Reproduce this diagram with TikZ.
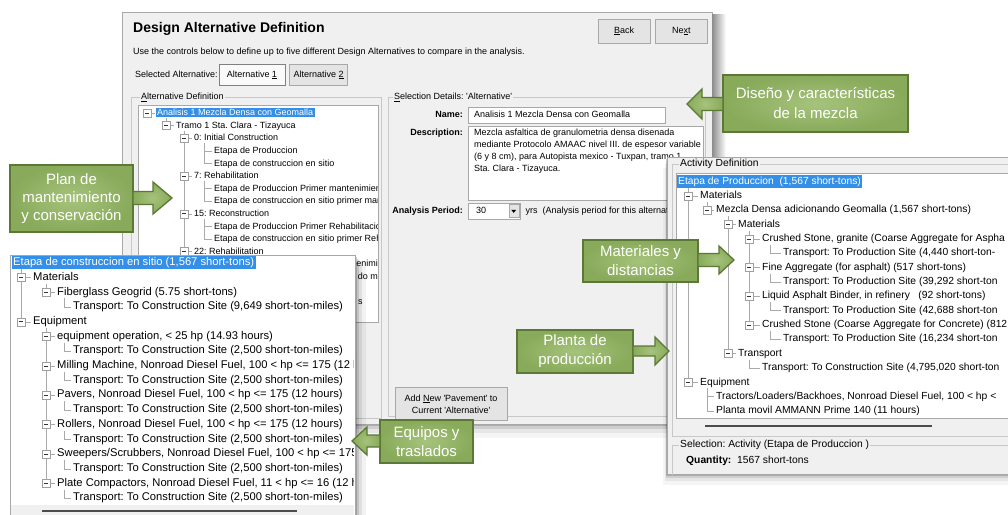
\documentclass[tikz,border=0pt]{standalone}
\usepackage{fontspec}
\setmainfont{Liberation Sans}
\usetikzlibrary{positioning,calc}
\frenchspacing

\definecolor{winbg}{RGB}{240,240,240}
\definecolor{winframe}{RGB}{168,168,168}
\definecolor{etch}{RGB}{200,200,200}
\definecolor{btnface}{RGB}{228,228,228}
\definecolor{selblue}{RGB}{51,143,232}
\definecolor{guidegray}{RGB}{170,170,170}
\definecolor{calldark}{RGB}{92,120,55}
\definecolor{callmid}{RGB}{136,170,90}
\definecolor{calllite}{RGB}{166,195,124}

\newcommand{\sq}{\textquotesingle}
\newcommand{\mainfs}{\fontsize{9}{12}\selectfont}
\newcommand{\leftfs}{\fontsize{11.2}{13}\selectfont}
\newcommand{\rightfs}{\fontsize{10.3}{13}\selectfont}

\tikzset{
  txt/.style={anchor=mid west, inner sep=0pt},
  selrow/.style={anchor=mid west, fill=selblue, text=white, inner xsep=1.5pt, inner ysep=1.5pt},
  winbtn/.style={draw=winframe, fill=btnface, font=\mainfs, inner sep=0pt, align=center},
  fieldbox/.style={draw=winframe, fill=white, inner sep=0pt},
  guideline/.style={draw=guidegray, line width=0.6pt},
  xbox/.style={draw=gray!75, fill=white, line width=0.6pt},
  xminus/.style={draw=gray!40!black, line width=0.7pt},
  callbox/.style={draw=calldark, line width=1.3pt, inner color=calllite, outer color=callmid, text=white, align=center, inner sep=0pt},
  callarrow/.style={draw=calldark, line width=1.3pt, inner color=calllite, outer color=callmid, line join=miter},
}

\begin{document}
\begin{tikzpicture}[x=1pt, y=-1pt]
\useasboundingbox (0,0) rectangle (1008,514);
\fill[white] (0,0) rectangle (1008,514);

% main window
\foreach \d/\o in {2/0.16, 5/0.10, 9/0.06, 14/0.04}
  \fill[black, opacity=\o] (122+\d,12+\d) rectangle (712+\d,424+\d);
\fill[winbg] (122,12) rectangle (712,424);
\draw[winframe] (122,12) rectangle (712,424);

\node[txt, font=\fontsize{14}{16}\selectfont\bfseries] (title) at (133,30) {Design Alternative Definition};
\node[winbtn, minimum width=52, minimum height=24] (back) at (624,31) {\underline{B}ack};
\node[winbtn, minimum width=52, minimum height=24, right=5pt of back] (next) {Ne\underline{x}t};
\node[txt, font=\mainfs] (intro) at (133,52) {Use the controls below to define up to five different Design Alternatives to compare in the analysis.};
\node[txt, font=\mainfs] (selalt) at (135,75) {Selected Alternative:};
\node[winbtn, fill=white!70!winbg, draw=gray, line width=0.8pt, minimum width=66, minimum height=21] (alt1) at (252,75) {Alternative \underline{1}};
\node[winbtn, minimum width=58, minimum height=21, right=4pt of alt1] (alt2) {Alternative \underline{2}};

% alternative definition tree
\draw[etch] (131,97) rectangle (381,418);
\node[txt, fill=winbg, inner xsep=1pt, font=\mainfs] (altdef) at (140,97) {\underline{A}lternative Definition};
\fill[white] (138,105) rectangle (378,322);
\draw[winframe] (138,105) rectangle (378,322);
\begin{scope}
  \clip (139,106) rectangle (377,321);
  \foreach \lv/\ka/\kb in {1/0/1, 2/1/15, 3/2/4, 3/5/7, 3/8/10, 3/11/13}{
    \pgfmathsetmacro\xc{{147,166,184,204}[\lv]}
    \draw[guideline] (\xc,113+12.6*\ka+5) -- (\xc,113+12.6*\kb);
  }
  \draw[guideline] (147,113) -- (155,113);
  \draw[xbox] (143,109) rectangle (151,117);
  \draw[xminus] (145,113) -- (149,113);
  \node[selrow, font=\mainfs] (m0) at (155.5,113) {Analisis 1 Mezcla Densa con Geomalla};
  \foreach \k/\lv/\hasbtn/\txt in {
    1/1/1/{Tramo 1 Sta. Clara - Tizayuca},
    2/2/1/{0: Initial Construction},
    3/3/0/{Etapa de Produccion},
    4/3/0/{Etapa de construccion en sitio},
    5/2/1/{7: Rehabilitation},
    6/3/0/{Etapa de Produccion Primer mantenimien},
    7/3/0/{Etapa de construccion en sitio primer man},
    8/2/1/{15: Reconstruction},
    9/3/0/{Etapa de Produccion Primer Rehabilitacio},
    10/3/0/{Etapa de construccion en sitio primer Reh},
    11/2/1/{22: Rehabilitation}}{
    \pgfmathsetmacro\yy{113+12.6*\k}
    \pgfmathsetmacro\xc{{147,166,184,204}[\lv]}
    \pgfmathsetmacro\xt{{157,176,194,214}[\lv]}
    \draw[guideline] (\xc,\yy) -- (\xt-2,\yy);
    \ifnum\hasbtn=1
      \draw[xbox] (\xc-4,\yy-4) rectangle (\xc+4,\yy+4);
      \draw[xminus] (\xc-2,\yy) -- (\xc+2,\yy);
    \fi
    \node[txt, font=\mainfs] (m\k) at (\xt,\yy) {\txt};
  }
  \node[anchor=mid east, inner sep=0pt, font=\mainfs] (frag1) at (378,264.2) {enimi};
  \node[anchor=mid east, inner sep=0pt, font=\mainfs] (frag2) at (378,276.8) {do m};
  \node[txt, font=\mainfs] (frag3) at (358,302) {s};
\end{scope}

% selection details
\draw[etch] (388,97) rectangle (705,416);
\node[txt, fill=winbg, inner xsep=1pt, font=\mainfs] (seldet) at (393,97) {\underline{S}election Details: \sq Alternative\sq};
\node[anchor=mid east, inner sep=0pt, font=\mainfs\bfseries] (namelbl) at (463,115) {Name:};
\node[fieldbox, anchor=west, minimum width=197, minimum height=16] (namefld) at (468,115) {};
\node[txt, font=\mainfs] (nameval) at (474,115) {Analisis 1 Mezcla Densa con Geomalla};
\node[anchor=mid east, inner sep=0pt, font=\mainfs\bfseries] (desclbl) at (463,133) {Description:};
\node[fieldbox, anchor=north west, minimum width=235, minimum height=74] (descfld) at (468,126) {};
\node[anchor=north west, inner sep=0pt, align=left, font=\mainfs] (descval) at (474,128.5)
  {Mezcla asfaltica de granulometria densa disenada\\
   mediante Protocolo AMAAC nivel III. de espesor variable\\
   (6 y 8 cm), para Autopista mexico - Tuxpan, tramo 1.\\
   Sta. Clara - Tizayuca.};
\node[anchor=mid east, inner sep=0pt, font=\mainfs\bfseries] (perlbl) at (463,211) {Analysis Period:};
\node[fieldbox, anchor=west, minimum width=52, minimum height=16] (perfld) at (468,211) {};
\node[txt, font=\mainfs] (perval) at (476,211) {30};
\node[winbtn, minimum width=10, minimum height=13, anchor=east] (perdrop) at ([xshift=-1.5pt]perfld.east) {};
\fill[black] ([xshift=-2.5pt,yshift=1.2pt]perdrop.center) -- ([xshift=2.5pt,yshift=1.2pt]perdrop.center) -- ([yshift=-1.8pt]perdrop.center) -- cycle;
\node[txt, font=\mainfs, right=5pt of perfld] (perunit) {yrs\ \ (Analysis period for this alternati};
\node[winbtn, minimum width=112, minimum height=33] (addnew) at (451,404)
  {Add \underline{N}ew \sq Pavement\sq{} to\\Current \sq Alternative\sq};

% shadow right of main window
\shade[left color=black!45, right color=white] (712,14) rectangle (726,160);

% activity definition panel
\foreach \d/\o in {2/0.16, 4/0.10, 7/0.06, 11/0.04}
  \fill[black, opacity=\o] (667-\d/3,157+\d) rectangle (1008,474+\d);
\fill[winbg] (667,157) rectangle (1012,474);
\draw[winframe] (667,157) rectangle (1012,474);
\begin{scope}
  \clip (667,157) rectangle (1008,474);
  \draw[etch] (672,164) rectangle (1015,436);
  \draw[etch] (672,445) rectangle (1015,490);
\end{scope}
\node[txt, fill=winbg, inner xsep=1pt, font=\rightfs] (actdef) at (679,164) {Activity Definition};
\fill[white] (676,173) rectangle (1010,418);
\draw[winframe] (676,173) rectangle (1012,418);
\begin{scope}
  \clip (677,174) rectangle (1008,417);
  \foreach \lv/\ka/\kb in {1/0/14, 2/1/2, 2/14/16, 3/2/12, 4/3/10, 4/12/13, 5/4/5, 5/6/7, 5/8/9, 5/10/11}{
    \pgfmathsetmacro\xc{{0,688,707,728,749,770}[\lv]}
    \draw[guideline] (\xc,181.5+14.35*\ka+6) -- (\xc,181.5+14.35*\kb);
  }
  \node[selrow, font=\rightfs] (r0) at (676.5,181.5) {Etapa de Produccion\ \ (1,567 short-tons)};
  \foreach \k/\lv/\hasbtn/\txt in {
    1/1/1/Materials,
    2/2/1/{Mezcla Densa adicionando Geomalla (1,567 short-tons)},
    3/3/1/Materials,
    4/4/1/{Crushed Stone, granite (Coarse Aggregate for Aspha},
    5/5/0/{Transport: To Production Site (4,440 short-ton-},
    6/4/1/{Fine Aggregate (for asphalt) (517 short-tons)},
    7/5/0/{Transport: To Production Site (39,292 short-ton},
    8/4/1/{Liquid Asphalt Binder, in refinery\ \ \ (92 short-tons)},
    9/5/0/{Transport: To Production Site (42,688 short-ton},
    10/4/1/{Crushed Stone (Coarse Aggregate for Concrete) (812},
    11/5/0/{Transport: To Production Site (16,234 short-ton},
    12/3/1/Transport,
    13/4/0/{Transport: To Construction Site (4,795,020 short-ton},
    14/1/1/Equipment,
    15/2/0/{Tractors/Loaders/Backhoes, Nonroad Diesel Fuel, 100 < hp <},
    16/2/0/{Planta movil AMMANN Prime 140 (11 hours)}}{
    \pgfmathsetmacro\yy{181.5+14.35*\k}
    \pgfmathsetmacro\xc{{0,688,707,728,749,770}[\lv]}
    \pgfmathsetmacro\xt{{0,700,716,738,762,783}[\lv]}
    \draw[guideline] (\xc,\yy) -- (\xt-2,\yy);
    \ifnum\hasbtn=1
      \draw[xbox] (\xc-4,\yy-4) rectangle (\xc+4,\yy+4);
      \draw[xminus] (\xc-2,\yy) -- (\xc+2,\yy);
    \fi
    \node[txt, font=\rightfs] (r\k) at (\xt,\yy) {\txt};
  }
\end{scope}
\draw[gray!60!black, line width=2pt] (705,426) -- (932,426);
\node[txt, fill=winbg, inner xsep=1pt, font=\rightfs] (actsel) at (679,445) {Selection: Activity (Etapa de Produccion )};
\node[txt, font=\rightfs] (qty) at (686,461) {\textbf{Quantity:}\ \ 1567 short-tons};

% construction-site activity panel
\foreach \d/\o in {2/0.18, 4/0.12, 7/0.08, 11/0.05}
  \fill[black, opacity=\o] (10+\d,255+\d) rectangle (355+\d,520);
\fill[white] (10,255) rectangle (355,520);
\draw[winframe] (10,255) rectangle (355,520);
\fill[winbg] (11,505) rectangle (354,520);
\begin{scope}
  \clip (11,256) rectangle (353,505);
  \foreach \lv/\ka/\kb in {1/0/4, 2/1/2, 2/4/15, 3/2/3, 3/5/6, 3/7/8, 3/9/10, 3/11/12, 3/13/14, 3/15/16}{
    \pgfmathsetmacro\xc{{0,21,46,64}[\lv]}
    \draw[guideline] (\xc,263+14.7*\ka+6) -- (\xc,263+14.7*\kb);
  }
  \node[selrow, font=\leftfs] (l0) at (11.5,263) {Etapa de construccion en sitio (1,567 short-tons)};
  \foreach \k/\lv/\hasbtn/\txt in {
    1/1/1/Materials,
    2/2/1/{Fiberglass Geogrid (5.75 short-tons)},
    3/3/0/{Transport: To Construction Site (9,649 short-ton-miles)},
    4/1/1/Equipment,
    5/2/1/{equipment operation, < 25 hp (14.93 hours)},
    6/3/0/{Transport: To Construction Site (2,500 short-ton-miles)},
    7/2/1/{Milling Machine, Nonroad Diesel Fuel, 100 < hp <= 175 (12 h},
    8/3/0/{Transport: To Construction Site (2,500 short-ton-miles)},
    9/2/1/{Pavers, Nonroad Diesel Fuel, 100 < hp <= 175 (12 hours)},
    10/3/0/{Transport: To Construction Site (2,500 short-ton-miles)},
    11/2/1/{Rollers, Nonroad Diesel Fuel, 100 < hp <= 175 (12 hours)},
    12/3/0/{Transport: To Construction Site (2,500 short-ton-miles)},
    13/2/1/{Sweepers/Scrubbers, Nonroad Diesel Fuel, 100 < hp <= 175},
    14/3/0/{Transport: To Construction Site (2,500 short-ton-miles)},
    15/2/1/{Plate Compactors, Nonroad Diesel Fuel, 11 < hp <= 16 (12 h},
    16/3/0/{Transport: To Construction Site (2,500 short-ton-miles)}}{
    \pgfmathsetmacro\yy{263+14.7*\k}
    \pgfmathsetmacro\xc{{0,21,46,64}[\lv]}
    \pgfmathsetmacro\xt{{0,33,57,73}[\lv]}
    \draw[guideline] (\xc,\yy) -- (\xt-2,\yy);
    \ifnum\hasbtn=1
      \draw[xbox] (\xc-4,\yy-4) rectangle (\xc+4,\yy+4);
      \draw[xminus] (\xc-2,\yy) -- (\xc+2,\yy);
    \fi
    \node[txt, font=\leftfs] (l\k) at (\xt,\yy) {\txt};
  }
\end{scope}
\draw[gray!60!black, line width=2pt] (42,511) -- (297,511);

% callouts
\coordinate (distip) at (687,104);
\coordinate (plantip) at (172,198);
\coordinate (mattip) at (734,260);
\coordinate (platip) at (669,351);
\coordinate (equtip) at (352,441);
\node[callbox, minimum width=185, minimum height=57, font=\fontsize{15}{20}\selectfont] (dis) at (815.5,103.5) {Diseño y características\\de la mezcla};
\node[callbox, minimum width=123, minimum height=67, font=\fontsize{15}{18}\selectfont] (plan) at (71.5,198.5) {Plan de\\mantenimiento\\y conservación};
\node[callbox, minimum width=115, minimum height=42, font=\fontsize{15}{19}\selectfont] (mat) at (640.5,261) {Materiales y\\distancias};
\node[callbox, minimum width=116, minimum height=43, font=\fontsize{15}{19}\selectfont] (pla) at (575,351.5) {Planta de\\producción};
\node[callbox, minimum width=93, minimum height=43, font=\fontsize{15}{19}\selectfont] (equ) at (426.5,441.5) {Equipos y\\traslados};

\path[callarrow] let \p1=(distip), \p2=(dis.west) in
  (\p1) -- (\x1+15pt,\y1+15pt) -- (\x1+15pt,\y1+6.5pt) -- (\x2+0.7pt,\y1+6.5pt)
  -- (\x2+0.7pt,\y1-6.5pt) -- (\x1+15pt,\y1-6.5pt) -- (\x1+15pt,\y1-15pt) -- cycle;
\path[callarrow] let \p1=(equtip), \p2=(equ.west) in
  (\p1) -- (\x1+15pt,\y1+14pt) -- (\x1+15pt,\y1+6pt) -- (\x2+0.7pt,\y1+6pt)
  -- (\x2+0.7pt,\y1-6pt) -- (\x1+15pt,\y1-6pt) -- (\x1+15pt,\y1-14pt) -- cycle;
\path[callarrow] let \p1=(plantip), \p2=(plan.east) in
  (\p1) -- (\x1-19pt,\y1+16pt) -- (\x1-19pt,\y1+6.5pt) -- (\x2-0.7pt,\y1+6.5pt)
  -- (\x2-0.7pt,\y1-6.5pt) -- (\x1-19pt,\y1-6.5pt) -- (\x1-19pt,\y1-16pt) -- cycle;
\path[callarrow] let \p1=(mattip), \p2=(mat.east) in
  (\p1) -- (\x1-15pt,\y1+14pt) -- (\x1-15pt,\y1+6.5pt) -- (\x2-0.7pt,\y1+6.5pt)
  -- (\x2-0.7pt,\y1-6.5pt) -- (\x1-15pt,\y1-6.5pt) -- (\x1-15pt,\y1-14pt) -- cycle;
\path[callarrow] let \p1=(platip), \p2=(pla.east) in
  (\p1) -- (\x1-14pt,\y1+14pt) -- (\x1-14pt,\y1+5pt) -- (\x2-0.7pt,\y1+5pt)
  -- (\x2-0.7pt,\y1-5pt) -- (\x1-14pt,\y1-5pt) -- (\x1-14pt,\y1-14pt) -- cycle;
\end{tikzpicture}
\end{document}
